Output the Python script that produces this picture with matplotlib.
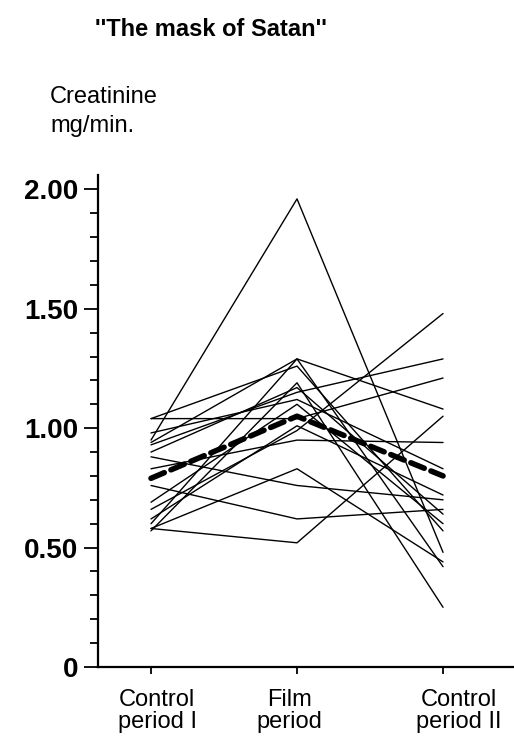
import matplotlib
matplotlib.use("Agg")
import matplotlib.pyplot as plt
from matplotlib.ticker import MultipleLocator
from matplotlib.transforms import ScaledTranslation

plt.rcParams['font.family'] = ['Liberation Sans', 'DejaVu Sans']

# periods on the x axis
periods = ["Control\nperiod I", "Film\nperiod", "Control\nperiod II"]

# creatinine (mg/min) per subject: control I, film, control II
control_1 = [0.95, 0.58, 0.76, 0.88, 0.58, 0.83, 0.66, 0.93, 1.04,
             0.60, 0.94, 1.04, 0.57, 0.90, 0.69, 0.62, 0.98]
film = [1.96, 0.52, 0.62, 0.76, 0.83, 0.95, 0.99, 1.15, 1.04,
        1.29, 1.29, 1.26, 1.19, 1.17, 1.10, 1.01, 1.12]
control_2 = [0.48, 1.05, 0.66, 0.70, 0.44, 0.94, 1.48, 1.29, 1.21,
             1.08, 0.42, 0.57, 0.25, 0.64, 0.60, 0.72, 0.83]

# group mean (dashed)
mean_vals = [0.79, 1.05, 0.80]

fig = plt.figure(figsize=(5.14, 7.43), dpi=100)
ax = fig.add_axes([98 / 514, 1 - 667 / 743, 1 - 98 / 514, (667 - 175) / 743])

xs = range(len(periods))
for a, b, c in zip(control_1, film, control_2):
    ax.plot(xs, [a, b, c], color="black", lw=1.0, solid_capstyle="round")

ax.plot(xs, mean_vals, color="black", lw=4.0, dashes=(2.6, 1.3),
        dash_capstyle="round")

ax.set_xlim(-0.363, 2.486)
ax.set_ylim(0, 2.06)

ax.spines["top"].set_visible(False)
ax.spines["right"].set_visible(False)
ax.spines["left"].set_linewidth(1.6)
ax.spines["bottom"].set_linewidth(1.6)

ax.yaxis.set_major_locator(MultipleLocator(0.5))
ax.yaxis.set_minor_locator(MultipleLocator(0.1))
ax.set_yticks([0, 0.5, 1.0, 1.5, 2.0])
ax.set_yticklabels(["0", "0.50", "1.00", "1.50", "2.00"],
                   fontsize=20, fontweight="bold")
ax.tick_params(axis="y", which="major", length=10, width=1.3, pad=4)
ax.tick_params(axis="y", which="minor", length=6, width=1.3)

ax.set_xticks(list(xs))
ax.set_xticklabels(periods, fontsize=17, linespacing=1.0)
ax.tick_params(axis="x", length=5, width=1.3, pad=11)

# the printed labels sit a little off their ticks
for lab, dx in zip(ax.get_xticklabels(), [6, -8, 16]):
    lab.set_transform(lab.get_transform() + ScaledTranslation(dx / 100, 0, fig.dpi_scale_trans))

fig.text(211 / 514, 1 - 30 / 743, "''The mask of Satan''",
         fontsize=17, fontweight="bold", ha="center", va="center")
fig.text(50 / 514, 1 - 97 / 743, "Creatinine", fontsize=17, ha="left", va="center")
fig.text(50 / 514, 1 - 126 / 743, "mg/min.", fontsize=17, ha="left", va="center")

fig.savefig("out.png", dpi=100)
